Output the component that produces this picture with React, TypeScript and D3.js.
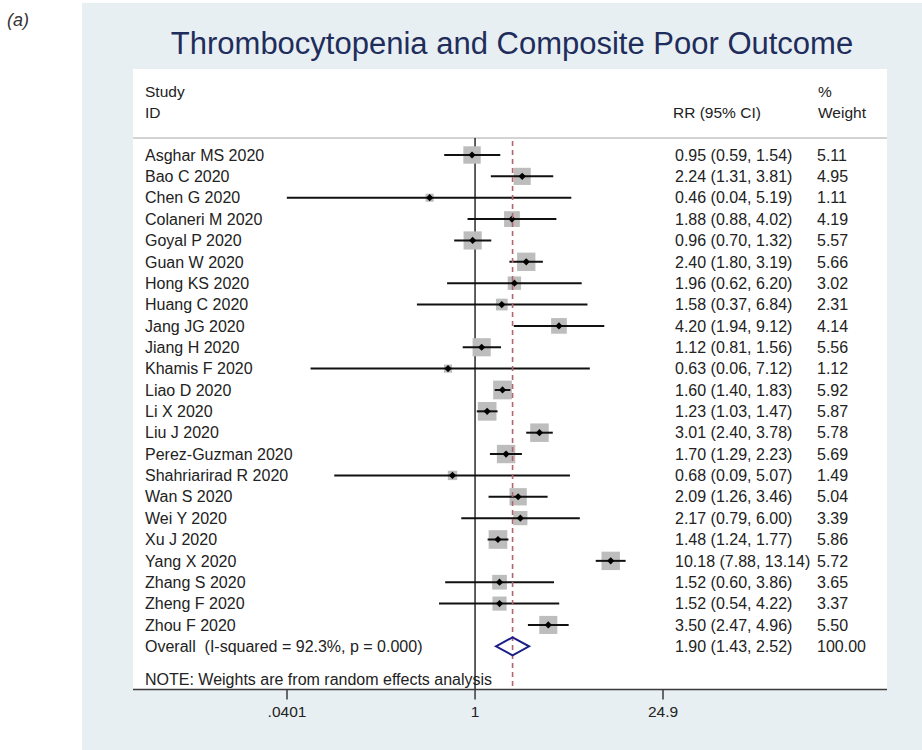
import React from "react";
import * as d3 from "d3";

const studies = [
  "Asghar MS 2020", "Bao C 2020", "Chen G 2020", "Colaneri M 2020", "Goyal P 2020",
  "Guan W 2020", "Hong KS 2020", "Huang C 2020", "Jang JG 2020", "Jiang H 2020",
  "Khamis F 2020", "Liao D 2020", "Li X 2020", "Liu J 2020", "Perez-Guzman 2020",
  "Shahriarirad R 2020", "Wan S 2020", "Wei Y 2020", "Xu J 2020", "Yang X 2020",
  "Zhang S 2020", "Zheng F 2020", "Zhou F 2020",
];
const rr = [0.95, 2.24, 0.46, 1.88, 0.96, 2.40, 1.96, 1.58, 4.20, 1.12, 0.63, 1.60, 1.23, 3.01, 1.70, 0.68, 2.09, 2.17, 1.48, 10.18, 1.52, 1.52, 3.50];
const lower = [0.59, 1.31, 0.04, 0.88, 0.70, 1.80, 0.62, 0.37, 1.94, 0.81, 0.06, 1.40, 1.03, 2.40, 1.29, 0.09, 1.26, 0.79, 1.24, 7.88, 0.60, 0.54, 2.47];
const upper = [1.54, 3.81, 5.19, 4.02, 1.32, 3.19, 6.20, 6.84, 9.12, 1.56, 7.12, 1.83, 1.47, 3.78, 2.23, 5.07, 3.46, 6.00, 1.77, 13.14, 3.86, 4.22, 4.96];
const weights = [5.11, 4.95, 1.11, 4.19, 5.57, 5.66, 3.02, 2.31, 4.14, 5.56, 1.12, 5.92, 5.87, 5.78, 5.69, 1.49, 5.04, 3.39, 5.86, 5.72, 3.65, 3.37, 5.50];
const overallLabel = "Overall  (I-squared = 92.3%, p = 0.000)";
const overall = [1.90, 1.43, 2.52];
const overallWeight = "100.00";
const tickValues = [0.0401, 1, 24.9];
const tickLabels = [".0401", "1", "24.9"];

const FONT = "'Liberation Sans', Arial, Helvetica, sans-serif";
const TEXT = "#222222";
const FS = 16;

export default function App() {
  const x = d3.scaleLog().domain([0.0401, 24.9]).range([287, 663]);
  const y = d3.scaleLinear().domain([0, 23]).range([155, 646.3]);
  const fmt = (v: number) => v.toFixed(2);
  const boxK = 7.7;
  const axisY = 689.5;
  const diamond = (cx: number, cy: number, r: number) =>
    `M${cx - r},${cy} L${cx},${cy - r} L${cx + r},${cy} L${cx},${cy + r} Z`;
  const oy = y(23);
  const ovPath = `M${x(overall[1])},${oy} L${x(overall[0])},${oy - 9} L${x(overall[2])},${oy} L${x(overall[0])},${oy + 9} Z`;

  return (
    <svg width={922} height={750} style={{ position: "absolute", left: 0, top: 0, background: "#fff" }} fontFamily={FONT}>
      <rect x={0} y={0} width={922} height={750} fill="#ffffff" />
      <text x={7} y={26} fontSize={18} fontStyle="italic" fill="#333">(a)</text>
      <rect x={82} y={3} width={840} height={747} fill="#e8eff2" />
      <text x={512} y={54} textAnchor="middle" fontSize={31} fill="#1f2d5c">Thrombocytopenia and Composite Poor Outcome</text>
      <rect x={133} y={69} width={754} height={620.5} fill="#ffffff" />
      {/* header */}
      <g fontSize={15.5} fill={TEXT}>
        <text x={145} y={97}>Study</text>
        <text x={145} y={118}>ID</text>
        <text x={673} y={118}>RR (95% CI)</text>
        <text x={818} y={97}>%</text>
        <text x={818} y={118}>Weight</text>
      </g>
      <line x1={133} x2={887} y1={138} y2={138} stroke="#c4c4c4" strokeWidth={1.5} />
      {/* null line */}
      <line x1={x(1)} x2={x(1)} y1={138} y2={axisY} stroke="#1a1a1a" strokeWidth={1.4} />
      {/* studies */}
      {studies.map((s, i) => {
        const cy = y(i);
        const side = boxK * Math.sqrt(weights[i]);
        return (
          <g key={s}>
            <rect x={x(rr[i]) - side / 2} y={cy - side / 2} width={side} height={side} fill="#bdbdbd" />
            <line x1={x(lower[i])} x2={x(upper[i])} y1={cy} y2={cy} stroke="#111" strokeWidth={2} />
            <path d={diamond(x(rr[i]), cy, 3.6)} fill="#000" />
            <text x={145} y={cy + 5.7} fontSize={FS} fill={TEXT}>{s}</text>
            <text x={675} y={cy + 5.7} fontSize={FS} fill={TEXT}>{`${fmt(rr[i])} (${fmt(lower[i])}, ${fmt(upper[i])})`}</text>
            <text x={817} y={cy + 5.7} fontSize={FS} fill={TEXT}>{fmt(weights[i])}</text>
          </g>
        );
      })}
      {/* overall */}
      <text x={145} y={oy + 5.7} fontSize={FS} fill={TEXT} style={{ whiteSpace: "pre" }}>{overallLabel}</text>
      <text x={675} y={oy + 5.7} fontSize={FS} fill={TEXT}>{`${fmt(overall[0])} (${fmt(overall[1])}, ${fmt(overall[2])})`}</text>
      <text x={817} y={oy + 5.7} fontSize={FS} fill={TEXT}>{overallWeight}</text>
      <text x={145} y={684.5} fontSize={FS} fill={TEXT}>NOTE: Weights are from random effects analysis</text>
      {/* dashed overall line */}
      <line x1={x(overall[0])} x2={x(overall[0])} y1={141} y2={axisY} stroke="#b5636d" strokeWidth={1.6} strokeDasharray="5,4" />
      <path d={ovPath} fill="none" stroke="#1b1f86" strokeWidth={2} />
      {/* axis */}
      <line x1={133} x2={887} y1={axisY} y2={axisY} stroke="#3a3a3a" strokeWidth={1.5} />
      {tickValues.map((t, i) => (
        <g key={t}>
          <line x1={x(t)} x2={x(t)} y1={axisY} y2={axisY + 10} stroke="#3a3a3a" strokeWidth={1.5} />
          <text x={x(t)} y={717} textAnchor="middle" fontSize={15.5} fill={TEXT}>{tickLabels[i]}</text>
        </g>
      ))}
    </svg>
  );
}
